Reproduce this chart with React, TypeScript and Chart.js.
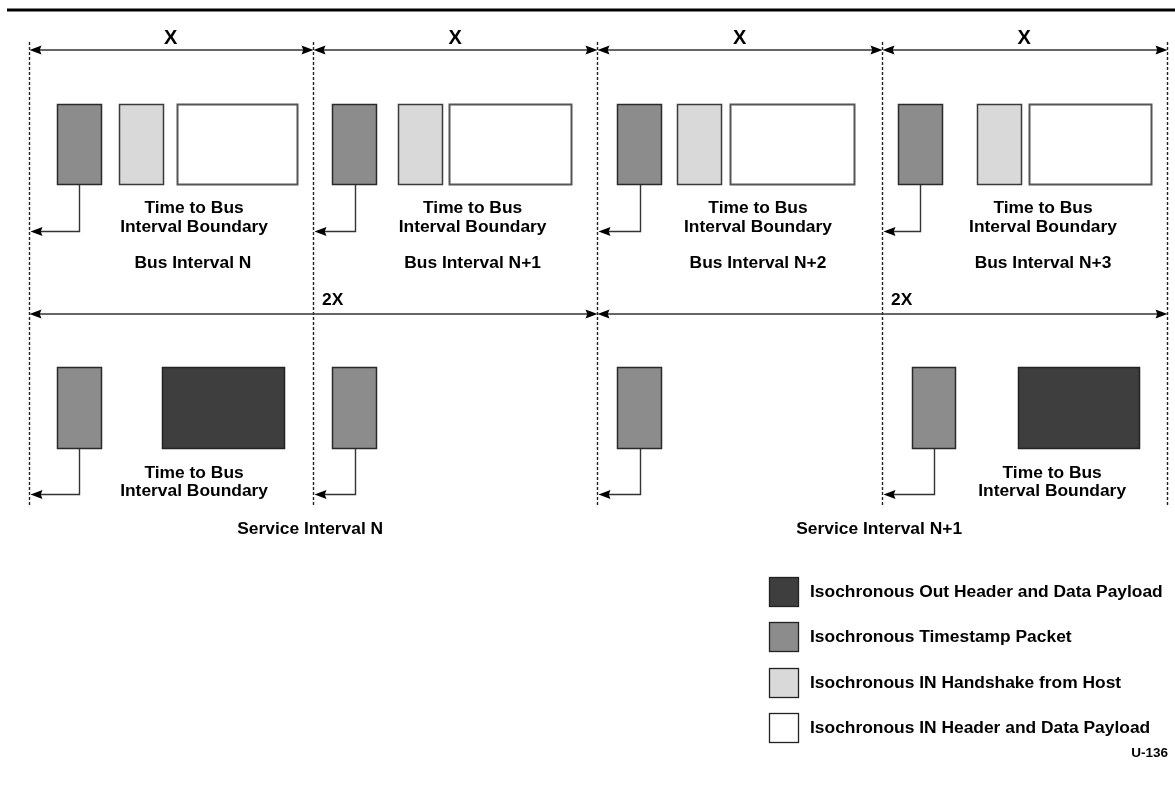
import React, { useEffect, useRef } from "react";
import { Chart, registerables } from "chart.js";

Chart.register(...registerables);

// ---- Data (x in bus-interval units; boundaries at 0..4) ----
const BOUNDARIES = [0, 1, 2, 3, 4];
const BUS_LABELS = ["Bus Interval N", "Bus Interval N+1", "Bus Interval N+2", "Bus Interval N+3"];
const BUS_LABEL_X = [0.578, 1.561, 2.564, 3.566];
const X_SPANS: number[][] = [[0, 1], [1, 2], [2, 3], [3, 4]];
const TWO_X_SPANS: number[][] = [[0, 2], [2, 4]];

// Bus-interval row packets
const BUS_TIMESTAMP_START = [0.1, 1.067, 2.069, 3.056];
const BUS_TIMESTAMP_END = [0.258, 1.225, 2.227, 3.214];
const HANDSHAKE_START = [0.318, 1.299, 2.279, 3.334];
const HANDSHAKE_END = [0.476, 1.457, 2.437, 3.492];
const IN_PAYLOAD_START = [0.522, 1.478, 2.466, 3.517];
const IN_PAYLOAD_END = [0.947, 1.91, 2.905, 3.949];

// Service-interval row packets
const SVC_TIMESTAMP_START = [0.1, 1.067, 2.069, 3.105];
const SVC_TIMESTAMP_END = [0.258, 1.225, 2.227, 3.26];
const OUT_PAYLOAD_START = [0.469, 3.478];
const OUT_PAYLOAD_END = [0.902, 3.907];

const BUS_TIME_TEXT_X = [0.582, 1.561, 2.564, 3.566];
const SVC_TIME_TEXT_X = [0.582, 3.598];
const SERVICE_LABELS = ["Service Interval N", "Service Interval N+1"];
const SERVICE_LABEL_X = [0.99, 2.99];

const LEGEND_LABELS = [
  "Isochronous Out Header and Data Payload",
  "Isochronous Timestamp Packet",
  "Isochronous IN Handshake from Host",
  "Isochronous IN Header and Data Payload",
];
const FIGURE_ID = "U-136";

// ---- Layout / styles ----
const W = 1175;
const H = 786;
const UNIT_PX = 284.5;
const ORIGIN_PX = 28.5;
const ROW = {
  topRule: 10,
  dashTop: 42,
  dashBottom: 507,
  xLabel: 38,
  xArrow: 50,
  busBoxTop: 104,
  busBoxBottom: 185,
  busText1: 208,
  busText2: 227,
  busConnector: 231,
  busName: 263,
  twoXLabel: 300,
  twoXArrow: 314,
  svcBoxTop: 367,
  svcBoxBottom: 449,
  svcText1: 473,
  svcText2: 491,
  svcConnector: 494,
  svcName: 529,
  legendTop: 577,
  legendStep: 45.3,
  legendBox: 30,
  figId: 753,
};
const COLORS = {
  outPayload: "#3e3e3e",
  timestamp: "#8c8c8c",
  handshake: "#d9d9d9",
  inPayload: "#ffffff",
};
const FONT = '"Liberation Sans", Arial, sans-serif';
const TEXT_FONT = `bold 17.4px ${FONT}`;

function arrowHead(ctx: CanvasRenderingContext2D, tipX: number, tipY: number, dir: number) {
  const len = 12;
  const half = 4.5;
  ctx.beginPath();
  ctx.moveTo(tipX, tipY);
  ctx.lineTo(tipX - dir * len, tipY - half);
  ctx.lineTo(tipX - dir * len * 0.85, tipY);
  ctx.lineTo(tipX - dir * len, tipY + half);
  ctx.closePath();
  ctx.fillStyle = "#000";
  ctx.fill();
}

const diagramPlugin = {
  id: "diagram",
  afterDatasetsDraw(chart: any) {
    const ctx: CanvasRenderingContext2D = chart.ctx;
    const xs = chart.scales.x;
    const ys = chart.scales.y;
    const px = (v: number) => xs.getPixelForValue(v);
    const py = (v: number) => ys.getPixelForValue(v);
    ctx.save();

    // top rule
    ctx.strokeStyle = "#000";
    ctx.lineWidth = 3;
    ctx.beginPath();
    ctx.moveTo(px(-0.0756), py(ROW.topRule));
    ctx.lineTo(px(4.1), py(ROW.topRule));
    ctx.stroke();

    // dashed boundaries
    ctx.setLineDash([3, 2]);
    ctx.lineWidth = 1.4;
    ctx.strokeStyle = "#222";
    BOUNDARIES.forEach((b) => {
      ctx.beginPath();
      ctx.moveTo(Math.round(px(b)) + 0.5, py(ROW.dashTop));
      ctx.lineTo(Math.round(px(b)) + 0.5, py(ROW.dashBottom));
      ctx.stroke();
    });
    ctx.setLineDash([]);

    // dimension arrows
    const dim = (spans: number[][], y: number) => {
      spans.forEach(([a, b]) => {
        const x1 = Math.round(px(a)) + 0.5;
        const x2 = Math.round(px(b)) + 0.5;
        ctx.strokeStyle = "#333";
        ctx.lineWidth = 1.5;
        ctx.beginPath();
        ctx.moveTo(x1 + 4, py(y));
        ctx.lineTo(x2 - 4, py(y));
        ctx.stroke();
        arrowHead(ctx, x1, py(y), -1);
        arrowHead(ctx, x2, py(y), 1);
      });
    };
    dim(X_SPANS, ROW.xArrow);
    dim(TWO_X_SPANS, ROW.twoXArrow);

    ctx.fillStyle = "#000";
    ctx.textBaseline = "middle";
    ctx.font = `bold 20px ${FONT}`;
    ctx.textAlign = "center";
    X_SPANS.forEach(([a, b]) => ctx.fillText("X", px((a + b) / 2), py(ROW.xLabel)));
    ctx.textAlign = "left";
    ctx.font = TEXT_FONT;
    TWO_X_SPANS.forEach(([a, b]) => ctx.fillText("2X", px((a + b) / 2) + 9, py(ROW.twoXLabel)));

    // boxes
    const box = (s: number, e: number, top: number, bottom: number, fill: string, stroke: string, lw: number) => {
      const x1 = Math.round(px(s));
      const x2 = Math.round(px(e));
      const y1 = Math.round(py(top));
      const y2 = Math.round(py(bottom));
      ctx.fillStyle = fill;
      ctx.fillRect(x1, y1, x2 - x1, y2 - y1);
      ctx.strokeStyle = stroke;
      ctx.lineWidth = lw;
      ctx.strokeRect(x1 + 0.5, y1 + 0.5, x2 - x1 - 1, y2 - y1 - 1);
    };
    const connector = (s: number, e: number, bottom: number, yConn: number, boundary: number) => {
      const cx = Math.round(px((s + e) / 2)) + 0.5;
      const bx = Math.round(px(boundary)) + 0.5;
      const yc = Math.round(py(yConn)) + 0.5;
      ctx.strokeStyle = "#333";
      ctx.lineWidth = 1.4;
      ctx.beginPath();
      ctx.moveTo(cx, py(bottom));
      ctx.lineTo(cx, yc);
      ctx.lineTo(bx + 6, yc);
      ctx.stroke();
      arrowHead(ctx, bx + 1, yc, -1);
    };

    BUS_TIMESTAMP_START.forEach((s, i) => {
      box(s, BUS_TIMESTAMP_END[i], ROW.busBoxTop, ROW.busBoxBottom, COLORS.timestamp, "#2a2a2a", 1.5);
      connector(s, BUS_TIMESTAMP_END[i], ROW.busBoxBottom, ROW.busConnector, Math.floor(s));
    });
    HANDSHAKE_START.forEach((s, i) =>
      box(s, HANDSHAKE_END[i], ROW.busBoxTop, ROW.busBoxBottom, COLORS.handshake, "#3a3a3a", 1.5)
    );
    IN_PAYLOAD_START.forEach((s, i) =>
      box(s, IN_PAYLOAD_END[i], ROW.busBoxTop, ROW.busBoxBottom, COLORS.inPayload, "#555", 2)
    );
    SVC_TIMESTAMP_START.forEach((s, i) => {
      box(s, SVC_TIMESTAMP_END[i], ROW.svcBoxTop, ROW.svcBoxBottom, COLORS.timestamp, "#2a2a2a", 1.5);
      connector(s, SVC_TIMESTAMP_END[i], ROW.svcBoxBottom, ROW.svcConnector, Math.floor(s));
    });
    OUT_PAYLOAD_START.forEach((s, i) =>
      box(s, OUT_PAYLOAD_END[i], ROW.svcBoxTop, ROW.svcBoxBottom, COLORS.outPayload, "#222", 1.5)
    );

    // texts
    ctx.fillStyle = "#000";
    ctx.textAlign = "center";
    ctx.font = TEXT_FONT;
    BUS_TIME_TEXT_X.forEach((x) => {
      ctx.fillText("Time to Bus", px(x), py(ROW.busText1));
      ctx.fillText("Interval Boundary", px(x), py(ROW.busText2));
    });
    BUS_LABELS.forEach((l, i) => ctx.fillText(l, px(BUS_LABEL_X[i]), py(ROW.busName)));
    SVC_TIME_TEXT_X.forEach((x) => {
      ctx.fillText("Time to Bus", px(x), py(ROW.svcText1));
      ctx.fillText("Interval Boundary", px(x), py(ROW.svcText2));
    });
    SERVICE_LABELS.forEach((l, i) => ctx.fillText(l, px(SERVICE_LABEL_X[i]), py(ROW.svcName)));

    // legend
    const legendColors = [COLORS.outPayload, COLORS.timestamp, COLORS.handshake, COLORS.inPayload];
    const lx = 769;
    LEGEND_LABELS.forEach((l, i) => {
      const top = Math.round(ROW.legendTop + i * ROW.legendStep);
      ctx.fillStyle = legendColors[i];
      ctx.fillRect(lx, top, ROW.legendBox, ROW.legendBox);
      ctx.strokeStyle = "#222";
      ctx.lineWidth = 1.3;
      ctx.strokeRect(lx + 0.5, top + 0.5, ROW.legendBox - 1, ROW.legendBox - 1);
      ctx.fillStyle = "#000";
      ctx.textAlign = "left";
      ctx.font = TEXT_FONT;
      ctx.fillText(l, lx + 41, top + ROW.legendBox / 2);
    });
    ctx.textAlign = "right";
    ctx.font = `bold 13.5px ${FONT}`;
    ctx.fillText(FIGURE_ID, 1168, ROW.figId);

    ctx.restore();
  },
};

export default function App() {
  const ref = useRef<HTMLCanvasElement | null>(null);
  useEffect(() => {
    if (!ref.current) return;
    const xmin = -ORIGIN_PX / UNIT_PX;
    const xmax = (W - ORIGIN_PX) / UNIT_PX;
    const chart = new Chart(ref.current, {
      type: "scatter",
      data: { datasets: [{ data: [], pointRadius: 0 }] },
      options: {
        animation: false,
        responsive: false,
        devicePixelRatio: 1,
        layout: { padding: 0 },
        plugins: { legend: { display: false }, tooltip: { enabled: false }, title: { display: false } },
        scales: {
          x: { type: "linear", display: false, min: xmin, max: xmax },
          y: { type: "linear", display: false, min: 0, max: H, reverse: true },
        },
      },
      plugins: [diagramPlugin],
    });
    return () => chart.destroy();
  }, []);
  return (
    <div style={{ position: "fixed", left: 0, top: 0, width: W, height: H, background: "#fff" }}>
      <canvas ref={ref} width={W} height={H} style={{ display: "block" }} />
    </div>
  );
}
